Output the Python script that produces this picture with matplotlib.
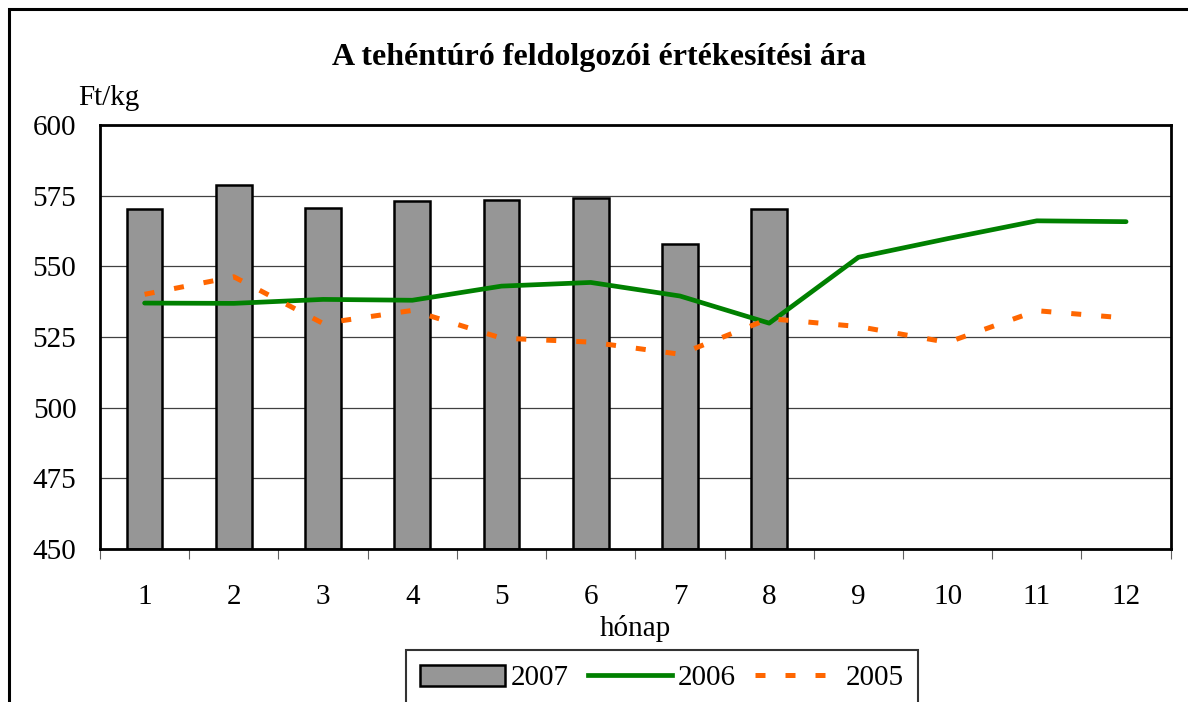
import matplotlib
matplotlib.use('Agg')
import matplotlib.pyplot as plt
from matplotlib.patches import Rectangle, Patch
from matplotlib.lines import Line2D
import numpy as np

# data
months = [1, 2, 3, 4, 5, 6, 7, 8, 9, 10, 11, 12]
y2007 = [570.3, 578.9, 570.6, 573.2, 573.4, 574.0, 557.8, 570.2]
y2006 = [537.0, 536.9, 538.3, 538.0, 543.0, 544.3, 539.5, 529.9, 553.2, 559.8, 566.1, 565.8]
y2005 = [540.1, 546.3, 529.8, 534.4, 524.6, 523.2, 518.9, 531.5, 528.7, 523.1, 534.3, 531.7]
yticks = [450, 475, 500, 525, 550, 575, 600]

plt.rcParams['font.family'] = ['Liberation Serif', 'DejaVu Serif']
fs = 21

fig = plt.figure(figsize=(11.88, 7.02), dpi=100)
W, H = 1188, 702
ax = fig.add_axes([100 / W, 1 - 549 / H, 1070.7 / W, 424 / H])

# outer frame of the chart (cut off on the right and bottom)
fig.patches.append(Rectangle((9 / W, -0.2), 1.2, 1.2 - 9 / H,
                             transform=fig.transFigure, fill=False,
                             edgecolor='black', linewidth=2.2, zorder=0))

ax.bar(months[:len(y2007)], np.array(y2007) - 450, bottom=450, width=0.4,
       color='#969696', edgecolor='black', linewidth=1.8, zorder=2)
ax.plot(months, y2006, color='#008000', linewidth=3.4, solid_capstyle='round', zorder=3)
ax.plot(months, y2005, color='#ff6600', linewidth=3.6, dashes=(2, 4),
        dash_capstyle='butt', zorder=4)

ax.set_ylim(450, 600)
ax.set_xlim(0.5, 12.5)
ax.set_yticks(yticks)
ax.set_yticklabels([str(v) for v in yticks], fontsize=fs)
ax.tick_params(axis='y', length=0, pad=17)
ax.grid(axis='y', color='#404040', linewidth=0.9, zorder=1)
ax.set_axisbelow(True)

ax.set_xticks(np.arange(0.5, 13, 1))
ax.set_xticklabels([])
ax.set_xticks(months, minor=True)
ax.set_xticklabels([str(m) for m in months], minor=True, fontsize=fs)
ax.tick_params(axis='x', which='major', length=7, width=0.8, color='#606060', direction='out')
ax.tick_params(axis='x', which='minor', length=0, pad=25)

for s in ax.spines.values():
    s.set_linewidth(2)
    s.set_color('black')

ax.set_xlabel('hónap', fontsize=fs)
ax.xaxis.set_label_coords(0.5, -0.155)

fig.text(599 / W, 1 - 65 / H, 'A tehéntúró feldolgozói értékesítési ára',
         ha='center', va='baseline', fontsize=23, fontweight='bold')
fig.text(78 / W, 1 - 105 / H, 'Ft/kg', ha='left', va='baseline', fontsize=fs)

handles = [Patch(facecolor='#969696', edgecolor='black', linewidth=1.8),
           Line2D([], [], color='#008000', linewidth=3.4),
           Line2D([], [], color='#ff6600', linewidth=3.6, dashes=(2, 4), dash_capstyle='butt')]
leg = fig.legend(handles, ['2007', '2006', '2005'], loc='upper center',
                 bbox_to_anchor=(662 / W, 1 - 650 / H), ncol=3, fontsize=fs,
                 frameon=True, fancybox=False, handlelength=2.9, handleheight=0.75,
                 handletextpad=0.2, columnspacing=0.65, borderpad=0.5,
                 borderaxespad=0)
leg.get_frame().set_edgecolor('black')
leg.get_frame().set_linewidth(1.5)

fig.savefig('out.png', dpi=100)
